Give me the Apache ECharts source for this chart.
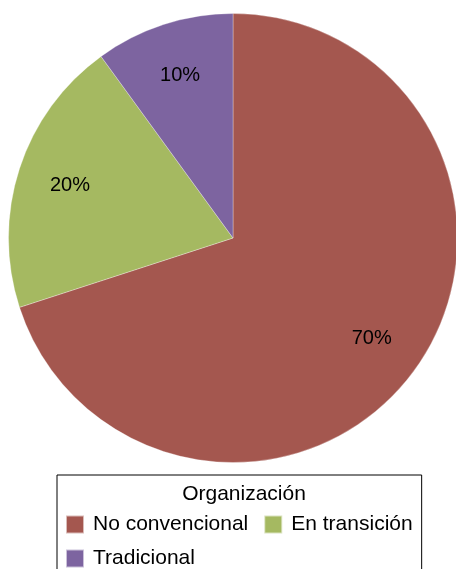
<!DOCTYPE html>
<html><head><meta charset="utf-8">
<script src="https://cdn.jsdelivr.net/npm/echarts@6/dist/echarts.min.js"></script>
<style>html,body{margin:0;padding:0;background:#fff}#c{width:456px;height:569px}</style>
</head><body><div id="c"></div>
<script>
const categories = ['No convencional', 'En transición', 'Tradicional'];
const values = [70, 20, 10];
const colors = ['#A4574F', '#A5B961', '#7D64A0'];
const legendTitle = 'Organización';

const font = 'Liberation Sans, Arial, Helvetica, sans-serif';
const data = categories.map((n, i) => ({ name: n, value: values[i], itemStyle: { color: colors[i] } }));
const labelData = categories.map((n, i) => ({ name: n, value: values[i] }));
const R = 224.5;
const chart = echarts.init(document.getElementById('c'), null, { renderer: 'canvas' });
chart.setOption({
  animation: false,
  title: {
    text: legendTitle, left: 239, top: 479, textAlign: 'center',
    textStyle: { fontFamily: font, fontSize: 21, fontWeight: 'normal', color: '#000' }
  },
  legend: {
    left: 57, top: 475, width: 390,
    orient: 'horizontal',
    padding: [39, 7, 20, 8],
    borderColor: '#000', borderWidth: 1,
    itemWidth: 18, itemHeight: 18, itemGap: 13,
    icon: 'rect',
    data: categories,
    textStyle: { fontFamily: font, fontSize: 21, color: '#000', lineHeight: 17, padding: [0, 2, 0, 4] }
  },
  series: [
    {
      type: 'pie', center: [233, 238], radius: R, startAngle: 90, clockwise: true,
      data: data,
      itemStyle: { borderColor: 'rgba(255,255,255,0.6)', borderWidth: 0.5 },
      label: { show: false }, labelLine: { show: false }, emphasis: { disabled: true }
    },
    {
      type: 'pie', center: [233, 238], radius: [R * 0.5, R], startAngle: 90, clockwise: true,
      data: labelData, silent: true, legendHoverLink: false,
      itemStyle: { color: 'rgba(0,0,0,0)', borderWidth: 0 },
      label: {
        show: true, position: 'inside', formatter: '{d}%',
        fontFamily: font, fontSize: 20, color: '#000'
      },
      labelLine: { show: false }, emphasis: { disabled: true }
    }
  ]
});
</script></body></html>
